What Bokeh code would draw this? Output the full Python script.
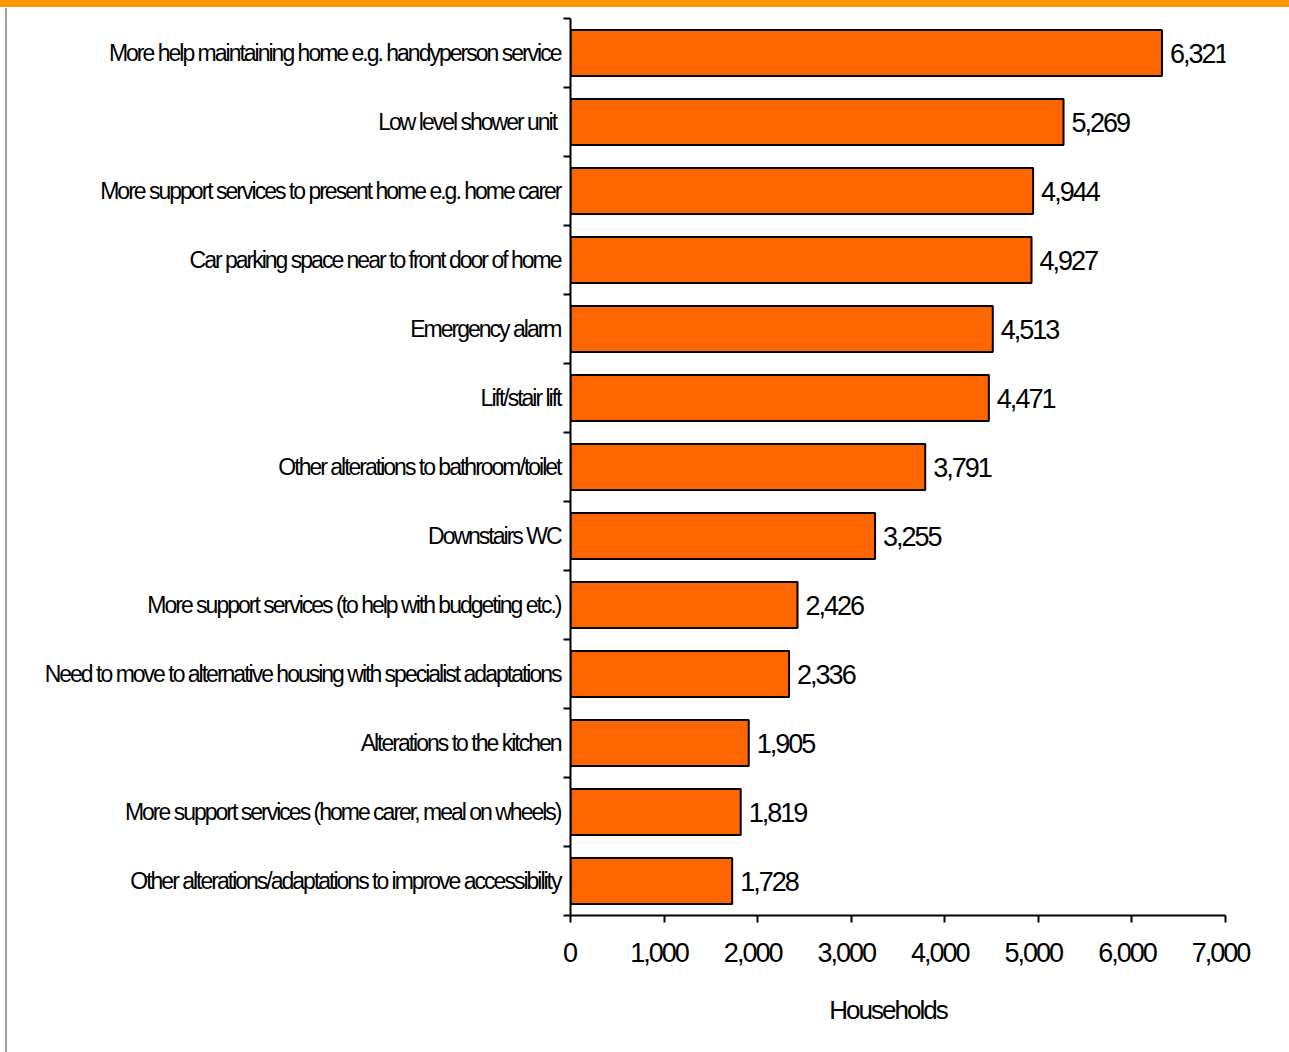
from bokeh.plotting import figure
from bokeh.models import Range1d, FixedTicker, NumeralTickFormatter, ColumnDataSource, InlineStyleSheet
from bokeh.core.properties import value
from bokeh.embed import file_html
from bokeh.resources import INLINE

categories = [
    "More help maintaining home e.g. handyperson service",
    "Low level shower unit ",
    "More support services to present home e.g. home carer",
    "Car parking space near to front door of home",
    "Emergency alarm",
    "Lift/stair lift",
    "Other alterations to bathroom/toilet",
    "Downstairs WC",
    "More support services (to help with budgeting etc.)",
    "Need to move to alternative housing with specialist adaptations",
    "Alterations to the kitchen",
    "More support services (home carer, meal on wheels)",
    "Other alterations/adaptations to improve accessibility",
]
households = [6321, 5269, 4944, 4927, 4513, 4471, 3791, 3255, 2426, 2336, 1905, 1819, 1728]
x_ticks = [0, 1000, 2000, 3000, 4000, 5000, 6000, 7000]
x_title = "Households"

FONT = "Liberation Sans"
LS = 2  # condensed letter spacing (px) applied through CSS
n = len(categories)
ys = [n - 1 - i for i in range(n)]
src = ColumnDataSource(dict(
    y=ys,
    v=households,
    lab=[f"{v:,}" for v in households],
    cat=categories,
    zero=[0] * n,
    # right-aligned text: compensate for the CSS letter-spacing shrink
    xo=[-10 + LS * len(c) for c in categories],
))

p = figure(width=1289, height=1052,
           x_range=Range1d(0, 7000), y_range=Range1d(-0.5, n - 0.5),
           output_backend="svg", toolbar_location=None,
           min_border_left=570, min_border_right=64,
           min_border_top=18, min_border_bottom=137)
p.xgrid.visible = False
p.ygrid.visible = False
p.outline_line_color = None
p.border_fill_color = None
p.background_fill_color = None
p.stylesheets = [InlineStyleSheet(css=(
    ":host { letter-spacing: -%dpx; "
    "background: linear-gradient(#FF9900,#FF9900) 0 0/100%% 7px no-repeat, "
    "linear-gradient(#A0A0A0,#A0A0A0) 5px 8px/2px 100%% no-repeat, #ffffff; }" % LS
))]

p.hbar(y="y", right="v", left=0, height=0.667, source=src,
       fill_color="#FF6600", line_color="black", line_width=2)
p.text(x="v", y="y", text="lab", source=src, x_offset=8,
       text_align="left", text_baseline="middle",
       text_font=value(FONT), text_font_size="27px", text_color="black")
cat_r = p.text(x="zero", y="y", text="cat", source=src, x_offset="xo",
               text_align="right", text_baseline="middle",
               text_font=value(FONT), text_font_size="23px", text_color="black")
cat_r.level = "annotation"

# y axis (ticks at category boundaries)
p.yaxis.ticker = FixedTicker(ticks=[], minor_ticks=[k - 0.5 for k in range(n + 1)])
p.yaxis.major_label_text_font_size = "0px"
p.yaxis.major_tick_out = 0
p.yaxis.major_tick_in = 0
p.yaxis.minor_tick_out = 7
p.yaxis.minor_tick_in = 0
p.yaxis.minor_tick_line_width = 2
p.yaxis.minor_tick_line_color = "black"
p.yaxis.axis_line_width = 2
p.yaxis.axis_line_color = "black"

# x axis
p.xaxis.ticker = FixedTicker(ticks=x_ticks)
p.xaxis.formatter = NumeralTickFormatter(format="0,0")
p.xaxis.major_tick_out = 7
p.xaxis.major_tick_in = 0
p.xaxis.minor_tick_out = 0
p.xaxis.minor_tick_in = 0
p.xaxis.major_tick_line_width = 2
p.xaxis.axis_line_width = 2
p.xaxis.axis_line_color = "black"
p.xaxis.major_tick_line_color = "black"
p.xaxis.major_label_standoff = 20
p.xaxis.major_label_text_font = FONT
p.xaxis.major_label_text_font_size = "27px"
p.xaxis.major_label_text_color = "black"
p.xaxis.axis_label = x_title
p.xaxis.axis_label_text_font = FONT
p.xaxis.axis_label_text_font_size = "26px"
p.xaxis.axis_label_text_font_style = "normal"
p.xaxis.axis_label_text_color = "black"
p.xaxis.axis_label_standoff = 30

open("out.html", "w").write(file_html(p, INLINE))
